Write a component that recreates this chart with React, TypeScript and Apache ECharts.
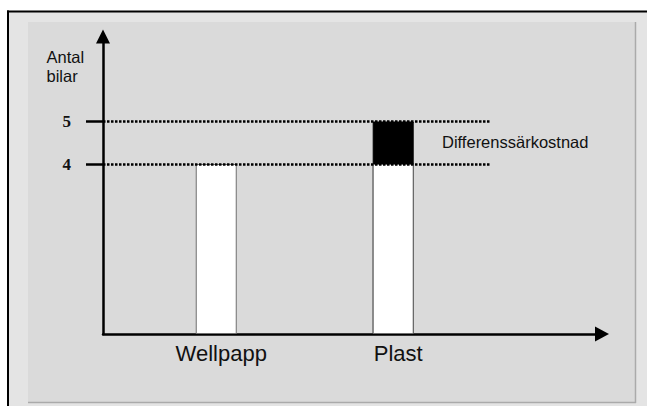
import React, { useEffect, useRef } from "react";
import * as echarts from "echarts";

const categories = ["Wellpapp", "Plast"];
const categoryPos = [1, 2];
const baseValues = [4, 4];
const plastTotal = 5;
const tickValues = [4, 5];
const xRange = [0.36, 3.18];
const yMax = 7;
const guideEnd = 2.55;
const diffLabel = "Differenssärkostnad";
const yName = "Antal\nbilar";

export default function App() {
  const ref = useRef<HTMLDivElement>(null);
  useEffect(() => {
    if (!ref.current) return;
    const chart = echarts.init(ref.current, null, { renderer: "svg" });
    const guideLines = tickValues.map((v) => [
      { coord: [xRange[0], v] },
      { coord: [guideEnd, v] },
    ]);
    chart.setOption({
      animation: false,
      backgroundColor: "#ffffff",
      grid: { left: 103, right: 45, top: 36.5, bottom: 72, containLabel: false },
      graphic: [
        { type: "rect", z: -10, silent: true, shape: { x: 8, y: 11, width: 640, height: 396 }, style: { fill: "#e4e4e4" } },
        { type: "rect", z: -9, silent: true, shape: { x: 28, y: 22, width: 607, height: 380 }, style: { fill: "#dadada" } },
        { type: "line", z: -8, silent: true, shape: { x1: 635.5, y1: 22, x2: 635.5, y2: 403 }, style: { stroke: "#aaaaaa", lineWidth: 1.5 } },
        { type: "line", z: -8, silent: true, shape: { x1: 28, y1: 402.5, x2: 636, y2: 402.5 }, style: { stroke: "#aaaaaa", lineWidth: 1.5 } },
        { type: "line", z: -7, silent: true, shape: { x1: 7, y1: 11.5, x2: 647, y2: 11.5 }, style: { stroke: "#000000", lineWidth: 2 } },
        { type: "line", z: -7, silent: true, shape: { x1: 8, y1: 10.5, x2: 8, y2: 406 }, style: { stroke: "#000000", lineWidth: 2 } },
        {
          type: "text", z: 100, x: 46.5, y: 47,
          style: { text: yName, fontFamily: "Liberation Sans", fontSize: 16.5, lineHeight: 19, fill: "#111111", textAlign: "left", textVerticalAlign: "top" },
        },
        {
          type: "text", z: 100, x: 442, y: 142,
          style: { text: diffLabel, fontFamily: "Liberation Sans", fontSize: 16.5, fill: "#111111", textAlign: "left", textVerticalAlign: "middle" },
        },
      ],
      xAxis: {
        type: "value",
        min: xRange[0],
        max: xRange[1],
        splitLine: { show: false },
        axisTick: { show: false },
        axisLine: { show: true, onZero: false, symbol: ["none", "triangle"], symbolSize: [15, 14], lineStyle: { color: "#000000", width: 2.5 } },
        axisLabel: {
          customValues: categoryPos,
          formatter: (v: number) => categories[Math.round(v) - 1] ?? "",
          fontFamily: "Liberation Sans",
          fontSize: 22,
          color: "#111111",
          margin: 8,
          padding: [0, 0, 0, 10],
        },
      },
      yAxis: {
        type: "value",
        min: 0,
        max: yMax,
        splitLine: { show: false },
        axisLine: { show: true, onZero: false, symbol: ["none", "triangle"], symbolSize: [14, 14], lineStyle: { color: "#000000", width: 2.5 } },
        axisTick: { show: true, inside: false, length: 17, customValues: tickValues, lineStyle: { color: "#000000", width: 2.5 } },
        axisLabel: {
          customValues: tickValues,
          fontFamily: "'Liberation Serif', 'DejaVu Serif', serif",
          fontWeight: "bold",
          fontSize: 17,
          color: "#111111",
          margin: 32,
        },
      },
      series: [
        {
          type: "bar",
          name: "Plast total",
          barWidth: 41,
          barGap: "-100%",
          data: [[categoryPos[1], plastTotal]],
          itemStyle: { color: "#000000", borderColor: "#000000", borderWidth: 1 },
          markLine: {
            silent: true,
            symbol: ["none", "none"],
            label: { show: false },
            lineStyle: { color: "#000000", width: 2.5, type: [2.5, 1.5] },
            data: guideLines,
          },
        },
        {
          type: "bar",
          name: "Bas",
          barWidth: 41,
          barGap: "-100%",
          data: categoryPos.map((p, i) => [p, baseValues[i]]),
          itemStyle: { color: "#ffffff", borderColor: "#6e6e6e", borderWidth: 1 },
        },
      ],
    });
    return () => chart.dispose();
  }, []);
  return <div ref={ref} style={{ position: "fixed", left: 0, top: 0, width: 647, height: 406 }} />;
}
